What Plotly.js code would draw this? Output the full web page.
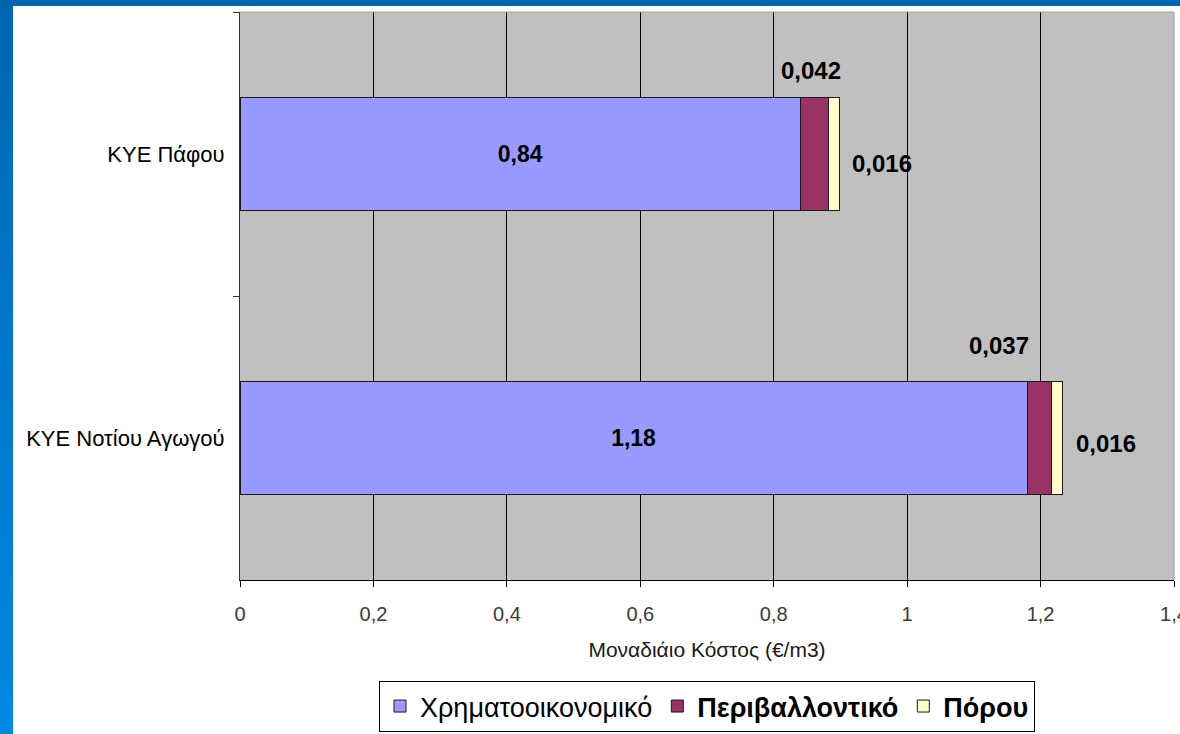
<!DOCTYPE html>
<html>
<head>
<meta charset="utf-8">
<script src="https://cdn.plot.ly/plotly-3.0.1.min.js"></script>
<style>
  html, body { margin: 0; padding: 0; background: #ffffff; }
  #frame { position: relative; width: 1180px; height: 734px; overflow: hidden;
           background: linear-gradient(to bottom, #0066b0 0%, #0078cc 50%, #0088e0 100%); }
  #inner { position: absolute; left: 13px; top: 6px; width: 1167px; height: 728px; background: #ffffff; }
  #chart { position: absolute; left: 0; top: 0; width: 1180px; height: 734px; }
</style>
</head>
<body>
<div id="frame">
  <div id="inner"></div>
  <div id="chart"></div>
</div>
<script>
// ---- Data ----
const categories = ['KYE Πάφου', 'KYE Νοτίου Αγωγού'];
const financial = [0.84, 1.18];
const environmental = [0.042, 0.037];
const resource = [0.016, 0.016];
const seriesNames = ['Χρηματοοικονομικό', 'Περιβαλλοντικό', 'Πόρου'];
const xTickValues = [0, 0.2, 0.4, 0.6, 0.8, 1, 1.2, 1.4];
const xAxisTitle = 'Μοναδιάιο Κόστος (€/m3)';

// ---- Styling ----
const FONT = 'Arial, "Liberation Sans", sans-serif';
const colors = ['#9999FF', '#993366', '#FFFFCC'];
const fmt = v => String(v).replace('.', ',');

const barLine = { color: '#1a1a1a', width: 1 };

const traces = [
  {
    type: 'bar', orientation: 'h', name: seriesNames[0],
    y: categories, x: financial,
    marker: { color: colors[0], line: barLine },
    text: financial.map(fmt), textposition: 'inside', insidetextanchor: 'middle',
    textfont: { family: FONT, size: 23, color: '#000000', weight: 'bold' },
    hoverinfo: 'x+name'
  },
  {
    type: 'bar', orientation: 'h', name: '<b>' + seriesNames[1] + '</b>',
    y: categories, x: environmental,
    marker: { color: colors[1], line: barLine },
    hoverinfo: 'x+name'
  },
  {
    type: 'bar', orientation: 'h', name: '<b>' + seriesNames[2] + '</b>',
    y: categories, x: resource,
    marker: { color: colors[2], line: barLine },
    hoverinfo: 'x+name'
  }
];

// label offsets (px)
const envShiftX = [-3, -41];
const envShiftY = [84, 93];
const resShiftY = [-9, -5];

const annotations = [];
categories.forEach((c, i) => {
  annotations.push({
    x: financial[i] + environmental[i] / 2, y: c, xref: 'x', yref: 'y',
    text: fmt(environmental[i]), showarrow: false,
    xanchor: 'center', yanchor: 'middle',
    xshift: envShiftX[i], yshift: envShiftY[i],
    font: { family: FONT, size: 24, color: '#000000', weight: 'bold' }
  });
  annotations.push({
    x: financial[i] + environmental[i] + resource[i], y: c, xref: 'x', yref: 'y',
    text: fmt(resource[i]), showarrow: false,
    xanchor: 'left', yanchor: 'middle',
    xshift: 11, yshift: resShiftY[i],
    font: { family: FONT, size: 24, color: '#000000', weight: 'bold' }
  });
});

const layout = {
  width: 1180, height: 734, autosize: false,
  margin: { l: 240, r: 6, t: 12, b: 154, pad: 0, autoexpand: false },
  paper_bgcolor: 'rgba(0,0,0,0)',
  plot_bgcolor: '#C0C0C0',
  separators: ',.',
  barmode: 'stack',
  bargap: 0.6,
  font: { family: FONT, color: '#000000' },
  showlegend: true,
  xaxis: {
    range: [0, 1.4], tickvals: xTickValues,
    ticktext: xTickValues.map(fmt),
    showgrid: true, gridcolor: '#000000', gridwidth: 1,
    zeroline: false,
    showline: true, linecolor: '#000000', linewidth: 1,
    ticks: 'outside', ticklen: 6, tickcolor: '#000000', tickwidth: 1,
    tickfont: { family: FONT, size: 20, color: '#3a3a3a' },
    ticklabelstandoff: 10,
    ticklabeloverflow: 'allow',
    automargin: false,
    fixedrange: true,
    title: { text: xAxisTitle, font: { family: FONT, size: 21, color: '#1a1a1a' }, standoff: 18 }
  },
  yaxis: {
    type: 'category', autorange: 'reversed',
    tickson: 'boundaries',
    showgrid: false, zeroline: false,
    showline: true, linecolor: '#333333', linewidth: 1,
    ticks: 'outside', ticklen: 6, tickcolor: '#333333', tickwidth: 1,
    tickfont: { family: FONT, size: 22, color: '#000000' },
    ticklabelstandoff: 10,
    automargin: false,
    fixedrange: true
  },
  legend: {
    orientation: 'h', x: 0.5, xanchor: 'center',
    y: -0.2676, yanchor: 'bottom',
    bgcolor: '#ffffff', bordercolor: '#000000', borderwidth: 1,
    font: { family: FONT, size: 27, color: '#000000' },
    traceorder: 'normal', itemwidth: 30, itemclick: false, itemdoubleclick: false
  },
  shapes: [
    { type: 'line', xref: 'paper', yref: 'paper', x0: 0, x1: 1, y0: 1, y1: 1,
      line: { color: '#a0a0a0', width: 1 }, layer: 'above' },
    { type: 'line', xref: 'paper', yref: 'paper', x0: 1, x1: 1, y0: 0, y1: 1,
      line: { color: '#999999', width: 1 }, layer: 'above' }
  ],
  annotations: annotations
};

Plotly.newPlot('chart', traces, layout, { displayModeBar: false, staticPlot: true });
</script>
</body>
</html>
